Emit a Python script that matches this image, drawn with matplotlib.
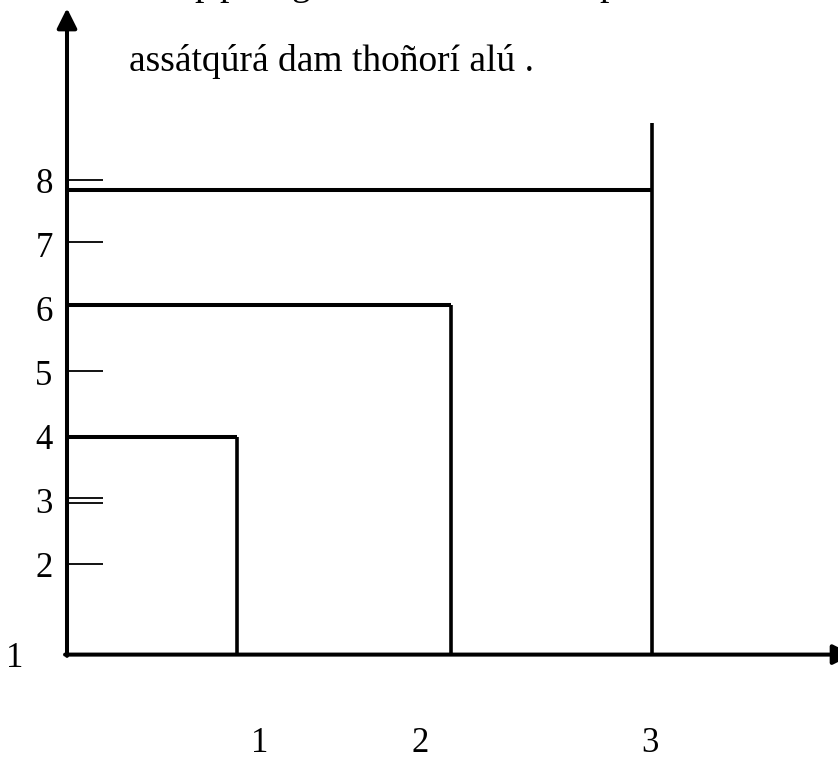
import matplotlib
matplotlib.use("Agg")
import matplotlib.pyplot as plt

# ---- data ----
step_x = [0.87, 1.97, 3.0]          # right edges of the nested steps
step_y = [4.0, 6.07, 7.86]          # heights of the nested steps
last_top = 8.91                     # top of the last vertical line
y_labels = ["2", "3", "4", "5", "6", "7", "8"]
y_label_vals = [2, 3, 4, 5, 6, 7, 8]
tick_vals = [2.01, 2.97, 3.04, 5.03, 7.05, 8.02]
x_labels = ["1", "2", "3"]
x_label_vals = [0.99, 1.81, 2.99]
origin_label = "1"
caption = "assátqúrá dam thoñorí alú ."
axis_y0 = 0.6
y_top = 10.7
x_right = 4.03

FONT = "Liberation Serif"

fig = plt.figure(figsize=(8.38, 7.63), dpi=100)
ax = fig.add_axes([0, 0, 1, 1])
ax.set_xlim(-0.3436, 3.9538)
ax.set_ylim(-1.09375, 10.828)
ax.axis("off")

# axes with arrows
ax.annotate("", xy=(0, y_top), xytext=(0, axis_y0 - 0.02),
            annotation_clip=False,
            arrowprops=dict(arrowstyle="-|>", lw=2.9, color="black",
                            mutation_scale=30, shrinkA=0, shrinkB=0))
ax.annotate("", xy=(x_right, axis_y0), xytext=(-0.01, axis_y0),
            annotation_clip=False,
            arrowprops=dict(arrowstyle="-|>", lw=2.9, color="black",
                            mutation_scale=30, shrinkA=0, shrinkB=0))

# nested steps
for i, (sx, sy) in enumerate(zip(step_x, step_y)):
    top = last_top if i == len(step_x) - 1 else sy
    ax.plot([0, sx], [sy, sy], color="black", lw=2.9, solid_capstyle="butt")
    ax.plot([sx, sx], [axis_y0, top], color="black", lw=2.6, solid_capstyle="butt")

# tick marks
for t in tick_vals:
    ax.plot([0, 0.185], [t, t], color="black", lw=1.3, solid_capstyle="butt")

# y labels
for lab, v in zip(y_labels, y_label_vals):
    ax.text(-0.118, v, lab, fontsize=25, family=FONT, ha="center",
            va="center_baseline")
ax.text(-0.267, axis_y0, origin_label, fontsize=25, family=FONT,
        ha="center", va="center_baseline")

# x labels
for lab, v in zip(x_labels, x_label_vals):
    ax.text(v, -0.72, lab, fontsize=25, family=FONT, ha="center",
            va="center_baseline")

# caption
ax.text(0.32, 9.72, caption, fontsize=27, family=FONT, ha="left",
        va="baseline")

# clipped line of text above the figure (only descenders visible)
for ch, xv in zip(["p", "p", "g", "p"], [0.703, 0.831, 1.2, 2.78]):
    ax.text(xv, 10.9, ch, fontsize=27, family=FONT, ha="center",
            va="baseline")

fig.savefig("out.png", dpi=100)
